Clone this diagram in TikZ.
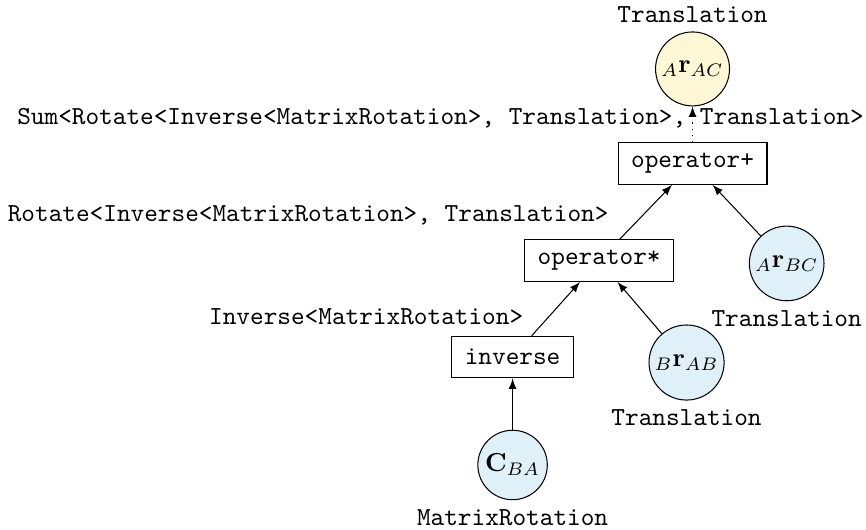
\documentclass[tikz,border=0pt]{standalone}
\definecolor{leafblue}{HTML}{E0F0F8}
\definecolor{rootyellow}{HTML}{FFF7D6}
\tikzset{
  op/.style={draw,rectangle,font=\ttfamily,inner xsep=5pt,minimum height=16pt},
  leaf/.style={draw,circle,fill=leafblue,inner sep=1.5pt},
  root/.style={draw,circle,fill=rootyellow,inner sep=1.5pt},
  typ/.style={font=\ttfamily}
}
\begin{document}
\begin{tikzpicture}[>=latex]
\useasboundingbox (0,0) rectangle (333pt,-203.5pt);

\node[root,label={[typ]above:Translation}] (rAC) at (266.3pt,-26.5pt) {${}_A\mathbf{r}_{AC}$};
\node[op] (plus) at (266.3pt,-62.9pt) {operator+};
\node[op] (times) at (230.4pt,-100.2pt) {operator*};
\node[leaf,label={[typ]below:Translation}] (rBC) at (302.5pt,-101.3pt) {${}_A\mathbf{r}_{BC}$};
\node[op] (inv) at (197.1pt,-137.3pt) {inverse};
\node[leaf,label={[typ]below:Translation}] (rAB) at (264.0pt,-139.4pt) {${}_B\mathbf{r}_{AB}$};
\node[leaf,label={[typ]below:MatrixRotation}] (CBA) at (197.1pt,-178.8pt) {$\mathbf{C}_{BA}$};

% result types of the operations
\node[typ] (tSum) at (169.4pt,-45.4pt) {Sum<Rotate<Inverse<MatrixRotation>, Translation>, Translation>};
\node[typ] (tRot) at (118.5pt,-82.7pt) {Rotate<Inverse<MatrixRotation>, Translation>};
\node[typ] (tInv) at (140.8pt,-121.9pt) {Inverse<MatrixRotation>};

\draw[->] (CBA) -- (inv);
\draw[->] (inv) -- (times);
\draw[->] (rAB) -- (times);
\draw[->] (times) -- (plus);
\draw[->] (rBC) -- (plus);
\draw[dotted,->] (plus) -- (rAC);
\end{tikzpicture}
\end{document}
